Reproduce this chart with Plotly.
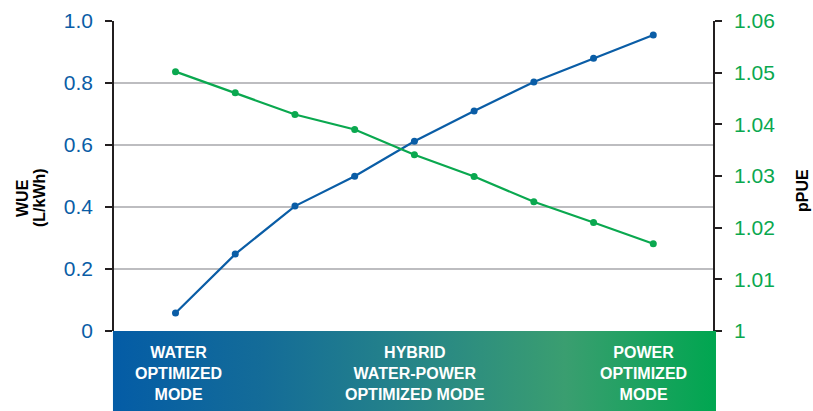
import base64
import plotly.graph_objects as go

# ---- data ----
steps = [1, 2, 3, 4, 5, 6, 7, 8, 9]
wue = [0.058, 0.248, 0.403, 0.499, 0.612, 0.710, 0.803, 0.880, 0.955]
ppue = [1.0502, 1.0461, 1.0419, 1.0390, 1.0341, 1.0299, 1.0250, 1.0210, 1.0169]
wue_ticks = [0, 0.2, 0.4, 0.6, 0.8, 1.0]
wue_ticktext = ["0", "0.2", "0.4", "0.6", "0.8", "1.0"]
ppue_ticks = [1.0, 1.01, 1.02, 1.03, 1.04, 1.05, 1.06]
ppue_ticktext = ["1", "1.01", "1.02", "1.03", "1.04", "1.05", "1.06"]
mode_labels = ["WATER<br>OPTIMIZED<br>MODE",
               "HYBRID<br>WATER-POWER<br>OPTIMIZED MODE",
               "POWER<br>OPTIMIZED<br>MODE"]
mode_pos = [0.107, 0.502, 0.884]

BLUE = "#0A5DA6"
GREEN = "#0AA84F"
AXIS = "#231F20"
GRID = "#BDBDC0"
FONT = "Liberation Sans, Arial, sans-serif"

W, H = 813, 411
L, R, T, B = 114, 100, 21, 80
PH = H - T - B
PW = W - L - R

fig = go.Figure()
fig.add_trace(go.Scatter(
    x=steps, y=wue, mode="lines+markers", name="WUE",
    line=dict(color=BLUE, width=2.2), marker=dict(color=BLUE, size=7),
    yaxis="y"))
fig.add_trace(go.Scatter(
    x=steps, y=ppue, mode="lines+markers", name="pPUE",
    line=dict(color=GREEN, width=2.2), marker=dict(color=GREEN, size=7),
    yaxis="y2"))

svg = ("<svg xmlns='http://www.w3.org/2000/svg' width='600' height='80' preserveAspectRatio='none'>"
       "<defs><linearGradient id='g' x1='0' y1='0' x2='1' y2='0'>"
       "<stop offset='0' stop-color='#045CA6'/>"
       "<stop offset='0.25' stop-color='#146C98'/>"
       "<stop offset='0.47' stop-color='#24828A'/>"
       "<stop offset='0.75' stop-color='#3A9E70'/>"
       "<stop offset='1' stop-color='#00A650'/>"
       "</linearGradient></defs>"
       "<rect x='0' y='0' width='600' height='80' fill='url(#g)'/></svg>")
src = "data:image/svg+xml;base64," + base64.b64encode(svg.encode()).decode()

annotations = []
for txt, xp in zip(mode_labels, mode_pos):
    annotations.append(dict(
        text=txt, x=xp, y=-(373 - 331) / PH, xref="paper", yref="paper",
        xanchor="center", yanchor="middle", showarrow=False, align="center",
        font=dict(family=FONT, size=16, color="white", weight="bold")))
for txt, px in [("WUE", 22), ("(L/kWh)", 39)]:
    annotations.append(dict(
        text=txt, x=(px - L) / PW, y=(331 - 198) / PH,
        xref="paper", yref="paper", xanchor="center", yanchor="middle",
        showarrow=False, textangle=-90,
        font=dict(family=FONT, size=16, color="black", weight="bold")))
annotations.append(dict(
    text="pPUE", x=(802 - L) / PW, y=(331 - 191) / PH,
    xref="paper", yref="paper", xanchor="center", yanchor="middle",
    showarrow=False, textangle=-90,
    font=dict(family=FONT, size=16, color="black", weight="bold")))

fig.update_layout(
    width=W, height=H,
    margin=dict(l=L, r=R, t=T, b=B, autoexpand=False),
    paper_bgcolor="white", plot_bgcolor="white",
    showlegend=False,
    font=dict(family=FONT),
    xaxis=dict(visible=False, range=[-0.03, 10.0], fixedrange=True),
    yaxis=dict(range=[0, 1.0], tickvals=wue_ticks, ticktext=wue_ticktext,
               showgrid=True, gridcolor=GRID, gridwidth=1.6,
               showline=True, linecolor=AXIS, linewidth=1.6,
               ticks="outside", ticklen=7, tickwidth=1.6, tickcolor=AXIS,
               tickfont=dict(size=21, color=BLUE, family=FONT),
               ticklabelstandoff=8, zeroline=False),
    yaxis2=dict(range=[1.0, 1.06], tickvals=ppue_ticks, ticktext=ppue_ticktext,
                overlaying="y", side="right", showgrid=False,
                showline=True, linecolor=AXIS, linewidth=1.6,
                ticks="outside", ticklen=7, tickwidth=1.6, tickcolor=AXIS,
                tickfont=dict(size=21, color=GREEN, family=FONT),
                ticklabelstandoff=8, zeroline=False),
    images=[dict(source=src, xref="paper", yref="paper",
                 x=-0.002, y=0, sizex=1.007, sizey=B / PH,
                 xanchor="left", yanchor="top", sizing="stretch", layer="above")],
    annotations=annotations,
)

fig.write_html(
    "out.html",
    config={"displayModeBar": False},
    post_script="document.body.style.margin='0';document.body.style.padding='0';"
                "document.documentElement.style.overflow='hidden';",
)
